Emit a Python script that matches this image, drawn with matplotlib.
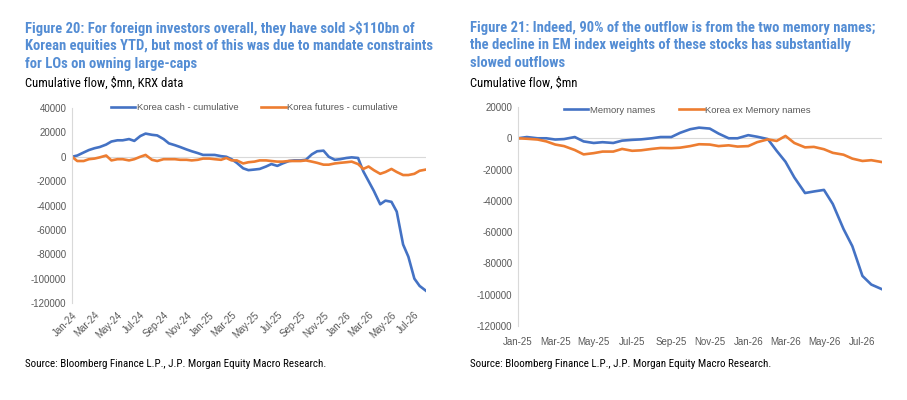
import matplotlib
matplotlib.use("Agg")
import matplotlib.pyplot as plt
import matplotlib.dates as mdates
from matplotlib import font_manager as fm
import pandas as pd

# ---------------- data ----------------
left_dates = pd.date_range("2024-01-01", periods=63, freq="SMS")
korea_cash = [0, 1000, 3500, 5500, 7000, 8000, 10000, 12500, 13500, 13500,
              14500, 13000, 17000, 19000, 18000, 17500, 14500, 11000, 9500, 8000,
              6000, 4500, 3000, 1500, 1500, 1500, 500, 0, -2000, -5000,
              -9500, -11000, -10500, -10000, -8000, -6000, -7500, -5500, -3500, -3000,
              -3000, -2500, 2000, 4500, 5000, 0, -2500, -2000, -1000, -500,
              -1000, -12000, -20000, -28000, -39000, -36000, -37000, -45000, -72000, -82000,
              -100000, -106000, -110000]
korea_futures = [0, -3500, -3500, -2000, -1500, -500, 1000, -3000, -2000, -2000,
                 -3000, -2000, 0, 1500, -2500, -3500, -2000, -2000, -2000, -2500,
                 -2500, -3000, -2500, -1500, -1500, -2000, -2500, -1000, -3000, -3000,
                 -5500, -4500, -4000, -3000, -3000, -3500, -4000, -4000, -3500, -3500,
                 -3500, -3000, -4000, -5000, -6500, -6500, -5500, -5000, -4500, -4000,
                 -6000, -10000, -8000, -11000, -14000, -12500, -10000, -12500, -15000, -15000,
                 -14000, -11500, -10500]
left_ticks = pd.date_range("2024-01-01", "2026-07-01", freq="2MS")

right_dates = pd.date_range("2025-01-01", periods=39, freq="SMS")
memory_names = [0, 800, 0, 0, -800, -500, 800, -2000, -3000, -2500,
                -3000, -1500, -1000, -700, 0, 800, 800, 3500, 5800, 6800,
                6200, 3000, 0, 0, 2000, 1000, -500, -8000, -15000, -25000,
                -35000, -34000, -33000, -42000, -58000, -69000, -88000, -93500, -96500]
korea_ex_memory = [0, -300, -800, -2000, -4000, -5000, -7500, -10300, -9500, -8500,
                   -8500, -6800, -8000, -7700, -6800, -6200, -6300, -6000, -5000, -3800,
                   -4000, -5000, -4500, -5300, -5000, -2500, -700, -1700, 1500, -3000,
                   -5800, -5500, -7000, -9300, -10500, -13000, -14500, -14000, -15200]
right_ticks = pd.date_range("2025-01-01", "2026-07-01", freq="2MS")

titles = ["Figure 20: For foreign investors overall, they have sold >$110bn of\n"
          "Korean equities YTD, but most of this was due to mandate constraints\n"
          "for LOs on owning large-caps",
          "Figure 21: Indeed, 90% of the outflow is from the two memory names;\n"
          "the decline in EM index weights of these stocks has substantially\n"
          "slowed outflows"]
subtitles = ["Cumulative flow, $mn, KRX data", "Cumulative flow, $mn"]
source = "Source: Bloomberg Finance L.P., J.P. Morgan Equity Macro Research."

# ---------------- fonts ----------------
_fonts = fm.fontManager.ttflist
_names = {f.name for f in _fonts}
if "Liberation Sans Narrow" in _names:
    NARROW = dict(family=["Liberation Sans Narrow", "DejaVu Sans"])
    NARROW_OK = True
elif "Roboto Condensed" in _names:
    NARROW = dict(family=["Roboto Condensed", "DejaVu Sans"])
    NARROW_OK = True
elif any(f.name == "DejaVu Sans" and f.stretch == "condensed" for f in _fonts):
    NARROW = dict(family=["DejaVu Sans"], fontstretch="condensed")
    NARROW_OK = True
else:
    NARROW = dict(family=["Liberation Sans", "DejaVu Sans"])
    NARROW_OK = False

# ---------------- style ----------------
BLUE = "#4472c4"
ORANGE = "#ed7d31"
TITLE_C = "#548dd4"
GRAY = "#595959"
plt.rcParams["font.family"] = ["Liberation Sans", "DejaVu Sans"]

fig = plt.figure(figsize=(9.07, 4.0), dpi=100)
W, H = 907, 400


def frac_box(x0, y0, x1, y1):
    return [x0 / W, 1 - y1 / H, (x1 - x0) / W, (y1 - y0) / H]


def style_axes(ax):
    for s in ["top", "right", "bottom"]:
        ax.spines[s].set_visible(False)
    ax.spines["left"].set_color("#d9d9d9")
    ax.spines["left"].set_linewidth(0.8)
    ax.axhline(0, color="#d9d9d9", lw=0.8, zorder=0)
    ax.tick_params(axis="y", length=0, labelsize=7, labelcolor=GRAY, pad=4)
    ax.tick_params(axis="x", length=0, labelsize=7, labelcolor=GRAY)
    ax.yaxis.set_major_formatter(matplotlib.ticker.FuncFormatter(lambda v, p: f"{int(v)}"))


# Left chart
ax1 = fig.add_axes(frac_box(72, 108, 426, 303))
ax1.plot(left_dates, korea_cash, color=BLUE, lw=1.9, label="Korea cash - cumulative")
ax1.plot(left_dates, korea_futures, color=ORANGE, lw=1.9, label="Korea futures - cumulative")
ax1.set_ylim(-120000, 40000)
ax1.set_yticks(range(-120000, 40001, 20000))
ax1.set_xlim(left_dates[0], left_dates[-1])
ax1.set_xticks(left_ticks)
ax1.xaxis.set_major_formatter(mdates.DateFormatter("%b-%y"))
style_axes(ax1)
for lab in ax1.get_xticklabels():
    lab.set_rotation(45)
    lab.set_ha("right")
    lab.set_rotation_mode("anchor")
ax1.tick_params(axis="x", pad=5)
ax1.legend(loc="center", bbox_to_anchor=(0.515, 1.0), ncol=2, frameon=False,
           fontsize=6.8, handlelength=2.6, columnspacing=2.4, handletextpad=0.15,
           labelcolor=GRAY)

# Right chart
ax2 = fig.add_axes(frac_box(518, 107, 882, 326))
ax2.plot(right_dates, memory_names, color=BLUE, lw=1.9, label="Memory names")
ax2.plot(right_dates, korea_ex_memory, color=ORANGE, lw=1.9, label="Korea ex Memory names")
ax2.set_ylim(-120000, 20000)
ax2.set_yticks(range(-120000, 20001, 20000))
ax2.set_xlim(right_dates[0], right_dates[-1])
ax2.set_xticks(right_ticks)
ax2.xaxis.set_major_formatter(mdates.DateFormatter("%b-%y"))
style_axes(ax2)
ax2.tick_params(axis="x", pad=8)
ax2.legend(loc="center", bbox_to_anchor=(0.465, 0.986), ncol=2, frameon=False,
           fontsize=6.8, handlelength=2.6, columnspacing=2.6, handletextpad=0.15,
           labelcolor=GRAY)

# Titles and notes
t_size = 10.5 if NARROW_OK else 9
for x0, t, st in [(25, titles[0], subtitles[0]), (470, titles[1], subtitles[1])]:
    fig.text(x0 / W, 1 - 21 / H, t, fontweight="bold", fontsize=t_size,
             color=TITLE_C, va="top", ha="left",
             linespacing=1.3 if NARROW_OK else 1.45, **NARROW)
    fig.text(x0 / W, 1 - 83 / H, st, fontsize=9.1 if NARROW_OK else 7.7, color="black",
             va="center", ha="left", **NARROW)
    fig.text(x0 / W, 1 - 364 / H, source, fontsize=7.9 if NARROW_OK else 7.1, color="black",
             va="center", ha="left", **NARROW)

fig.savefig("out.png", dpi=100, facecolor="white")
